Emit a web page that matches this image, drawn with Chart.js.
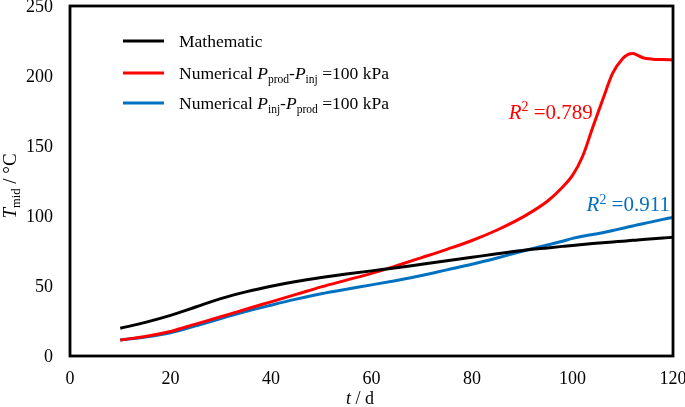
<!DOCTYPE html>
<html>
<head>
<meta charset="utf-8">
<script src="https://cdn.jsdelivr.net/npm/chart.js@4.4.1/dist/chart.umd.min.js"></script>
<style>
  html, body { margin: 0; padding: 0; background: #fff; }
  #wrap { width: 685px; height: 407px; position: relative; }
</style>
</head>
<body>
<div id="wrap"><canvas id="c" width="685" height="407"></canvas></div>
<script>
// ---------- data ----------
const days = [10,15,20,25,30,35,40,45,50,55,60,65,70,75,80,85,90,95,98,100,102,104,106,108,110,111,112,113,114,116,118,120];
const mathematic = [19.8,24,29,35,41,45.8,49.8,53.2,56,58.5,60.8,63,65.5,68,70.5,73,75.3,77.2,78.3,79,79.6,80.3,80.9,81.5,82,82.3,82.6,82.9,83.2,83.8,84.3,84.8];
const numProdInj = [11.4,14,17.5,22.8,28,33.4,38.7,44,49.4,54.2,59,64.5,70.3,76.2,82.5,90,99,110.5,120.5,129,142.5,163,183,202,212.5,215.3,216,214.8,213,212,211.8,211.5];
const numInjProd = [11.4,13.5,16.6,21.5,26.8,31.8,36.3,40.6,44.5,47.7,50.8,54,57.5,61.5,65.5,70,74.8,79.3,82,84,85.6,86.8,88,89.6,91.3,92.1,92.9,93.7,94.5,96,97.6,99];
const xTicks = [0,20,40,60,80,100,120];
const yTicks = [0,50,100,150,200,250];
const seriesLabels = ["Mathematic", "Numerical Pprod-Pinj =100 kPa", "Numerical Pinj-Pprod =100 kPa"];
const r2Labels = ["R2 =0.789", "R2 =0.911"];

// rich-text pieces (style only: italic / sub / sup)
const legendRich = [
  [{t:"Mathematic"}],
  [{t:"Numerical "},{t:"P",i:1},{t:"prod",sub:1},{t:"-"},{t:"P",i:1},{t:"inj",sub:1},{t:" =100 kPa"}],
  [{t:"Numerical "},{t:"P",i:1},{t:"inj",sub:1},{t:"-"},{t:"P",i:1},{t:"prod",sub:1},{t:" =100 kPa"}]
];
const r2Rich = [
  [{t:"R",i:1},{t:"2",sup:1},{t:" =0.789"}],
  [{t:"R",i:1},{t:"2",sup:1},{t:" =0.911"}]
];
const colors = ["#000000", "#ff0000", "#0070c0"];
const FONT = "'Liberation Serif', 'Times New Roman', serif";

function richWidth(ctx, segs, size) {
  let w = 0;
  for (const s of segs) {
    const fs = (s.sub || s.sup) ? size * 0.66 : size;
    ctx.font = (s.i ? "italic " : "") + fs + "px " + FONT;
    w += ctx.measureText(s.t).width;
  }
  return w;
}
function drawRich(ctx, segs, x, y, size, color) {
  ctx.save();
  ctx.fillStyle = color;
  ctx.textBaseline = "alphabetic";
  ctx.textAlign = "left";
  let cx = x;
  for (const s of segs) {
    const fs = (s.sub || s.sup) ? size * 0.66 : size;
    ctx.font = (s.i ? "italic " : "") + fs + "px " + FONT;
    let dy = 0;
    if (s.sub) dy = size * 0.2;
    if (s.sup) dy = -size * 0.36;
    ctx.fillText(s.t, cx, y + dy);
    cx += ctx.measureText(s.t).width;
  }
  ctx.restore();
}

const decorations = {
  id: "decorations",
  afterDatasetsDraw(chart) {
    const ctx = chart.ctx;
    const a = chart.chartArea;
    const xs = chart.scales.x, ys = chart.scales.y;
    // frame
    ctx.save();
    ctx.strokeStyle = "#000";
    ctx.lineWidth = 2.8;
    ctx.strokeRect(a.left, a.top, a.right - a.left, a.bottom - a.top);
    ctx.restore();
    // legend
    const legY = [41, 73, 103];
    for (let k = 0; k < 3; k++) {
      ctx.save();
      ctx.strokeStyle = colors[k];
      ctx.lineWidth = 3;
      ctx.beginPath();
      ctx.moveTo(123, legY[k]);
      ctx.lineTo(164, legY[k]);
      ctx.stroke();
      ctx.restore();
      drawRich(ctx, legendRich[k], 179, legY[k] + 6, 17.5, "#000");
    }
    // R2 labels (anchored in data space)
    drawRich(ctx, r2Rich[0], xs.getPixelForValue(87.3), ys.getPixelForValue(169.5), 21, colors[1]);
    drawRich(ctx, r2Rich[1], xs.getPixelForValue(102.8), ys.getPixelForValue(103.5), 21, colors[2]);
    // axis titles
    ctx.save();
    ctx.translate(16, 186);
    ctx.rotate(-Math.PI / 2);
    const yt = [{t:"T",i:1},{t:"mid",sub:1},{t:" / °C"}];
    const w = richWidth(ctx, yt, 19);
    drawRich(ctx, yt, -w / 2, 0, 19, "#000");
    ctx.restore();
    const xt = [{t:"t",i:1},{t:" / d"}];
    const wx = richWidth(ctx, xt, 18);
    drawRich(ctx, xt, 360 - wx / 2, 404, 18, "#000");
  }
};

const mk = (vals) => days.map((d, i) => ({x: d, y: vals[i]}));

new Chart(document.getElementById("c"), {
  type: "line",
  data: {
    datasets: [
      {label: seriesLabels[0], data: mk(mathematic), borderColor: colors[0]},
      {label: seriesLabels[1], data: mk(numProdInj), borderColor: colors[1]},
      {label: seriesLabels[2], data: mk(numInjProd), borderColor: colors[2]}
    ].map(d => Object.assign(d, {borderWidth: 3, pointRadius: 0, fill: false, cubicInterpolationMode: "monotone"}))
  },
  options: {
    responsive: false,
    animation: false,
    devicePixelRatio: 1,
    layout: {padding: {top: 6, right: 12, left: 0, bottom: 0}},
    plugins: {legend: {display: false}, tooltip: {enabled: false}},
    scales: {
      x: {
        type: "linear", min: 0, max: 120,
        grid: {display: false, drawTicks: false},
        border: {display: false},
        afterBuildTicks: s => { s.ticks = xTicks.map(v => ({value: v})); },
        afterFit: s => { s.height = 51; s.paddingLeft = 0; s.paddingRight = 0; s.paddingTop = 0; s.paddingBottom = 0; },
        ticks: {color: "#000", font: {family: FONT, size: 18}, padding: 12, maxRotation: 0}
      },
      y: {
        min: 0, max: 250,
        grid: {display: false, drawTicks: false},
        border: {display: false},
        afterBuildTicks: s => { s.ticks = yTicks.map(v => ({value: v})); },
        afterFit: s => { s.width = 70; s.paddingLeft = 0; s.paddingRight = 0; s.paddingTop = 0; s.paddingBottom = 0; },
        ticks: {color: "#000", font: {family: FONT, size: 18}, padding: 17, labelOffset: 1.5}
      }
    }
  },
  plugins: [decorations]
});
</script>
</body>
</html>
